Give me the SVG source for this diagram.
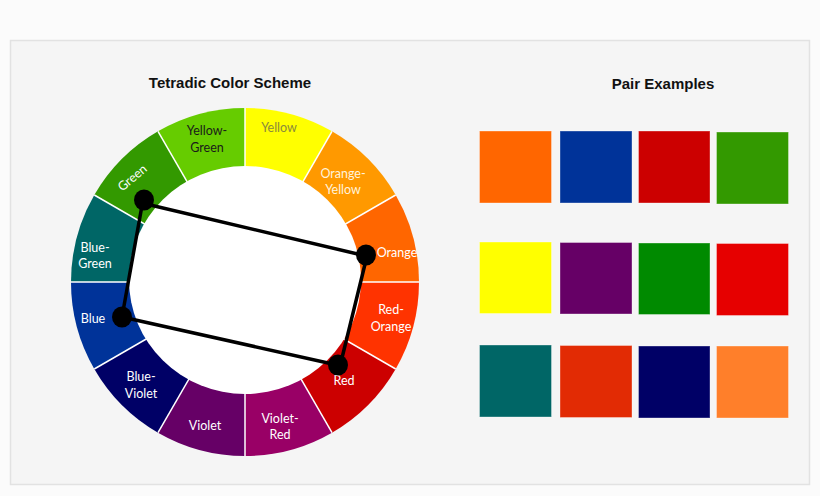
<svg xmlns="http://www.w3.org/2000/svg" width="820" height="496" viewBox="0 0 820 496">
<style>
.lbl{font-family:Lato,"Liberation Sans",sans-serif;font-size:12.5px;text-anchor:middle}
.w{fill:#ffffff}
.lt{fill:#fff3dc}
.dk{fill:#1a1a1a}
.title{font-family:"Liberation Sans",Arial,sans-serif;font-weight:bold;font-size:15px;fill:#111;text-anchor:middle}
.sep{stroke:#ffffff;stroke-width:1.5}
.sq{stroke:#ffffff;stroke-opacity:0.35;stroke-width:1}
.conn{stroke:#000;stroke-width:3.5;stroke-linecap:round;fill:none}
</style>
<rect x="0" y="0" width="820" height="496" fill="#fbfbfb"/>
<rect x="10.5" y="40.5" width="799" height="444" fill="#f5f5f5" stroke="#e2e2e2" stroke-width="1.5"/>
<text class="title" x="230" y="88">Tetradic Color Scheme</text>
<text class="title" x="663" y="89">Pair Examples</text>
<g id="wheel">
<path d="M245,282 L245,108 A174,174 0 0 1 332,131.3 Z" fill="#FFFF00"/>
<path d="M245,282 L332,131.3 A174,174 0 0 1 395.7,195 Z" fill="#FF9900"/>
<path d="M245,282 L395.7,195 A174,174 0 0 1 419,282 Z" fill="#FF6600"/>
<path d="M245,282 L419,282 A174,174 0 0 1 395.7,369 Z" fill="#FF3300"/>
<path d="M245,282 L395.7,369 A174,174 0 0 1 332,432.7 Z" fill="#CC0000"/>
<path d="M245,282 L332,432.7 A174,174 0 0 1 245,456 Z" fill="#990066"/>
<path d="M245,282 L245,456 A174,174 0 0 1 158,432.7 Z" fill="#660066"/>
<path d="M245,282 L158,432.7 A174,174 0 0 1 94.3,369 Z" fill="#000066"/>
<path d="M245,282 L94.3,369 A174,174 0 0 1 71,282 Z" fill="#003399"/>
<path d="M245,282 L71,282 A174,174 0 0 1 94.3,195 Z" fill="#006666"/>
<path d="M245,282 L94.3,195 A174,174 0 0 1 158,131.3 Z" fill="#339900"/>
<path d="M245,282 L158,131.3 A174,174 0 0 1 245,108 Z" fill="#66CC00"/>
<g class="sep">
<line x1="245" y1="282" x2="245" y2="108"/>
<line x1="245" y1="282" x2="332" y2="131.3"/>
<line x1="245" y1="282" x2="395.7" y2="195"/>
<line x1="245" y1="282" x2="419" y2="282"/>
<line x1="245" y1="282" x2="395.7" y2="369"/>
<line x1="245" y1="282" x2="332" y2="432.7"/>
<line x1="245" y1="282" x2="245" y2="456"/>
<line x1="245" y1="282" x2="158" y2="432.7"/>
<line x1="245" y1="282" x2="94.3" y2="369"/>
<line x1="245" y1="282" x2="71" y2="282"/>
<line x1="245" y1="282" x2="94.3" y2="195"/>
<line x1="245" y1="282" x2="158" y2="131.3"/>
</g>
<ellipse cx="245" cy="280" rx="116" ry="114" fill="#ffffff"/>
</g>
<g id="labels">
<text class="lbl" x="279" y="132" fill="#8a8a3c">Yellow</text>
<text class="lbl dk" x="207" y="135">Yellow-</text>
<text class="lbl dk" x="207" y="152">Green</text>
<text class="lbl lt" x="343" y="178">Orange-</text>
<text class="lbl lt" x="343" y="194">Yellow</text>
<text class="lbl w" x="397" y="257">Orange</text>
<text class="lbl w" x="391" y="314">Red-</text>
<text class="lbl w" x="391" y="331">Orange</text>
<text class="lbl w" x="344" y="385">Red</text>
<text class="lbl w" x="280" y="423">Violet-</text>
<text class="lbl w" x="280" y="439">Red</text>
<text class="lbl w" x="205" y="430">Violet</text>
<text class="lbl w" x="141" y="381">Blue-</text>
<text class="lbl w" x="141" y="398">Violet</text>
<text class="lbl w" x="93" y="323">Blue</text>
<text class="lbl w" x="95" y="252">Blue-</text>
<text class="lbl w" x="95" y="268">Green</text>
<text class="lbl w" transform="translate(135,181) rotate(-40)" x="0" y="0">Green</text>
</g>
<g id="connectors">
<line class="conn" x1="146" y1="204" x2="366" y2="256"/>
<line class="conn" x1="367" y1="256" x2="341" y2="362"/>
<line class="conn" x1="122" y1="317" x2="337" y2="365"/>
<line class="conn" x1="143" y1="200" x2="122" y2="317"/>
</g>
<g id="dots" fill="#000">
<ellipse id="dot-green" cx="144" cy="200" rx="10" ry="10.5"/>
<ellipse id="dot-orange" cx="366" cy="255" rx="10" ry="10.5"/>
<ellipse id="dot-blue" cx="122" cy="317" rx="10" ry="10.5"/>
<ellipse id="dot-red" cx="338" cy="365" rx="10" ry="10.5"/>
</g>
<g id="swatches">
<rect class="sq" x="479.5" y="131" width="72" height="72" fill="#FF6600"/>
<rect class="sq" x="560" y="131" width="72" height="72" fill="#003399"/>
<rect class="sq" x="638.5" y="131" width="71.5" height="72" fill="#CC0000"/>
<rect class="sq" x="716.5" y="132" width="72" height="72" fill="#339900"/>
<rect class="sq" x="479.5" y="242" width="72" height="71.5" fill="#FFFF00"/>
<rect class="sq" x="560" y="242.5" width="72" height="71.5" fill="#660066"/>
<rect class="sq" x="638.5" y="243" width="71.5" height="71.5" fill="#008A00"/>
<rect class="sq" x="716.5" y="243.5" width="72" height="72" fill="#E60000"/>
<rect class="sq" x="479.5" y="345" width="72" height="72" fill="#006666"/>
<rect class="sq" x="560" y="345.5" width="72" height="72" fill="#E22B04"/>
<rect class="sq" x="638.5" y="346" width="71.5" height="72" fill="#000066"/>
<rect class="sq" x="716.5" y="346" width="72" height="72" fill="#FF7F2A"/>
</g>
</svg>
